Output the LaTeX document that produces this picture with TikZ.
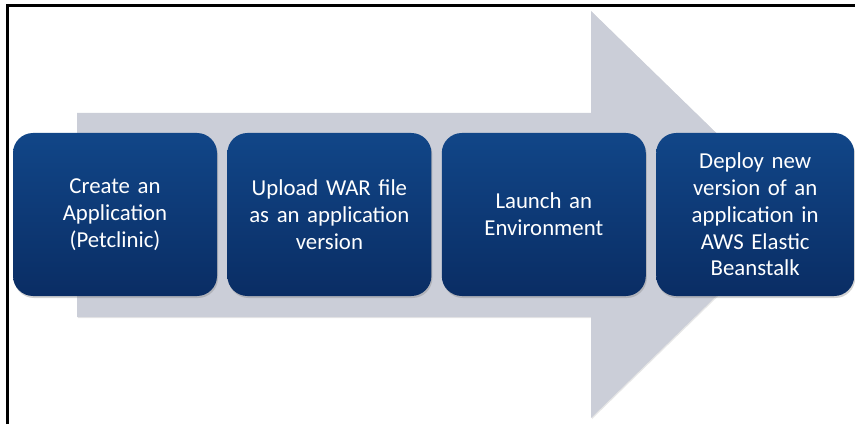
\documentclass[tikz,border=0pt]{standalone}
\usepackage{fontspec}
\setmainfont{Carlito}
\usepackage{tikz}
\usetikzlibrary{positioning,shadows}
\definecolor{awsgris}{RGB}{203,206,216}
\definecolor{awsbleuhaut}{RGB}{17,70,136}
\definecolor{awsbleubas}{RGB}{10,45,100}

\begin{document}
\begin{tikzpicture}[x=1pt, y=1pt, node distance=10pt,
  stepbox/.style={rectangle, rounded corners=20pt, top color=awsbleuhaut, bottom color=awsbleubas,
    draw=none, minimum width=204pt, minimum height=163pt, text width=196pt, align=center,
    text=white, font=\fontsize{22.8}{26.7}\selectfont,
    drop shadow={shadow xshift=1pt, shadow yshift=-2pt, opacity=0.35}}]

  \useasboundingbox (0,0) rectangle (855,424);

  % Frame
  \draw[line width=3pt] (7.5,0) -- (7.5,418.5) -- (855,418.5);

  % Big arrow
  \fill[awsgris, drop shadow={shadow xshift=1pt, shadow yshift=-1pt, opacity=0.2}]
    (77,311) -- (591,311) -- (591,413) -- (800,209.5) -- (591,6) -- (591,107) -- (77,107) -- cycle;

  % Steps
  \node[stepbox] (create) at (115,209.5) {Create an\\Application\\(Petclinic)};
  \node[stepbox, right=of create] (upload) {Upload WAR file\\as an application\\version};
  \node[stepbox, right=of upload] (launch) {Launch an\\Environment};
  \node[stepbox, minimum width=198pt, text width=190pt, right=of launch] (deploy)
    {Deploy new\\version of an\\application in\\AWS Elastic\\Beanstalk};
\end{tikzpicture}
\end{document}
